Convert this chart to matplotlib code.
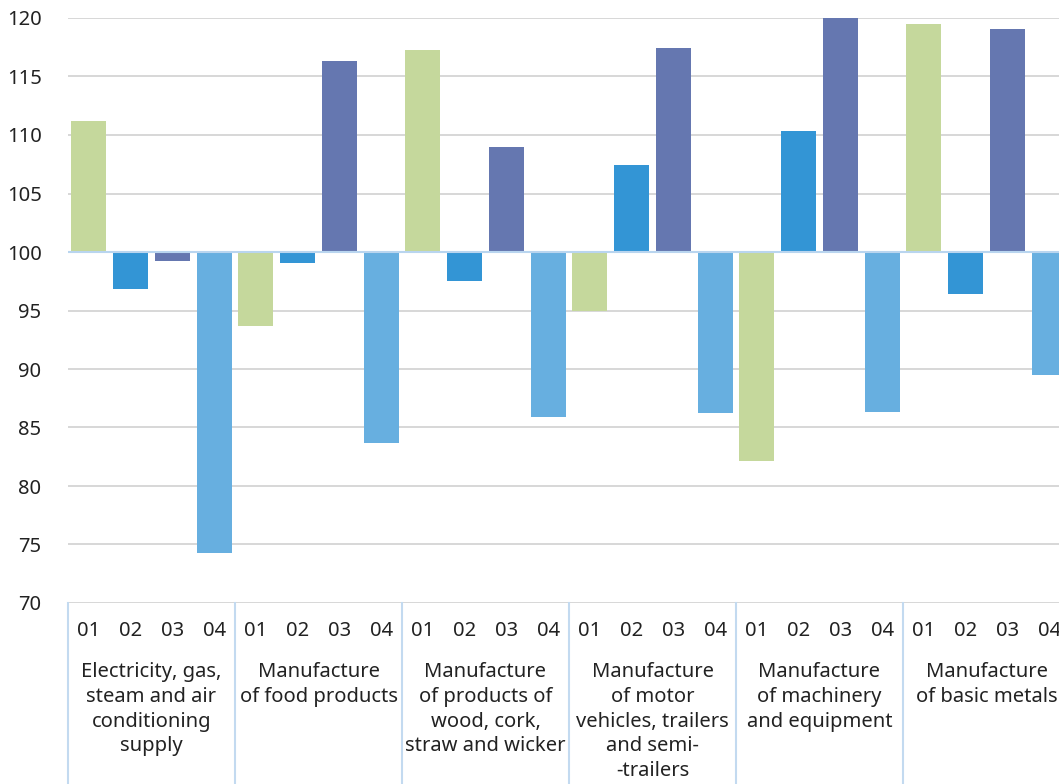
import matplotlib.pyplot as plt
from matplotlib.transforms import blended_transform_factory

plt.rcParams['font.family'] = ['Noto Sans', 'DejaVu Sans']

# datos
sectores = ["Electricity, gas,\nsteam and air\nconditioning\nsupply",
            "Manufacture\nof food products",
            "Manufacture\nof products of\nwood, cork,\nstraw and wicker",
            "Manufacture\nof motor\nvehicles, trailers\nand semi-\n-trailers",
            "Manufacture\nof machinery\nand equipment",
            "Manufacture\nof basic metals"]
trimestres = ["01", "02", "03", "04"]
t01 = [111.2, 93.7, 117.3, 95.0, 82.1, 119.5]
t02 = [96.8, 99.1, 97.5, 107.4, 110.3, 96.4]
t03 = [99.2, 116.3, 109.0, 117.4, 120.3, 119.1]
t04 = [74.3, 83.7, 85.9, 86.2, 86.3, 89.5]
colores = ["#c5d89c", "#3395d5", "#6577b0", "#67afe0"]

W, H = 1059, 784
fig = plt.figure(figsize=(W / 100, H / 100), dpi=100)
ax = fig.add_axes([68 / W, (H - 603) / H, 1002 / W, (603 - 18) / H])

series = [t01, t02, t03, t04]
for q in range(4):
    xs = [g * 4 + q for g in range(len(sectores))]
    alturas = [v - 100 for v in series[q]]
    ax.bar(xs, alturas, bottom=100, width=0.84, color=colores[q], zorder=3)

ax.set_xlim(-0.5, 4 * len(sectores) - 0.5)
ax.set_ylim(70, 120)
ax.set_yticks(range(70, 121, 5))
ax.tick_params(axis='y', length=0, pad=19, labelsize=14.5, labelcolor="#222222")
ax.set_xticks([])
ax.grid(axis='y', color="#d4d4d4", linewidth=1.3, zorder=0)
for s in ax.spines.values():
    s.set_visible(False)
ax.axhline(100, color="#b9d5ef", linewidth=1.5, zorder=4)

trans = blended_transform_factory(ax.transData, ax.transAxes)
alto = 585
for g in range(len(sectores) + 1):
    ax.plot([g * 4 - 0.5, g * 4 - 0.5], [0, -181 / alto], color="#c3daf0",
            linewidth=1.5, transform=trans, clip_on=False)
for g, nombre in enumerate(sectores):
    for q in range(4):
        ax.text(g * 4 + q, -28 / alto, trimestres[q], transform=trans,
                ha='center', va='center', fontsize=14.5, color="#222222")
    ax.text(g * 4 + 1.5, -59 / alto, nombre, transform=trans, ha='center',
            va='top', fontsize=14.5, color="#222222", linespacing=1.32)

fig.savefig("out.png", dpi=100)
